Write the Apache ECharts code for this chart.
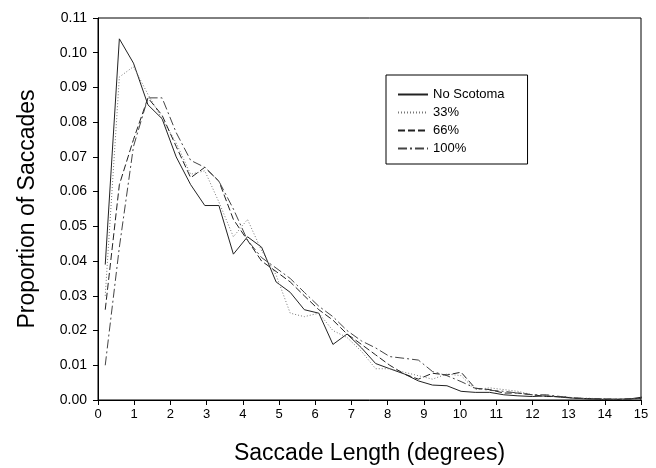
<!DOCTYPE html>
<html>
<head>
<meta charset="utf-8">
<script src="https://cdn.jsdelivr.net/npm/echarts@6/dist/echarts.min.js"></script>
<style>html,body{margin:0;padding:0;background:#fff;}#c{width:656px;height:468px;}</style>
</head>
<body>
<div id="c"></div>
<script>
var xValues = [0.20, 0.59, 0.98, 1.38, 1.77, 2.16, 2.56, 2.95, 3.34, 3.74, 4.13, 4.52, 4.92, 5.31, 5.70, 6.10, 6.49, 6.88, 7.28, 7.67, 8.06, 8.46, 8.85, 9.24, 9.64, 10.03, 10.42, 10.82, 11.21, 11.60, 12.00, 12.39, 12.78, 13.18, 13.57, 13.96, 14.36, 14.75, 15.14];
var noScotoma = [0.039, 0.104, 0.097, 0.085, 0.081, 0.070, 0.062, 0.056, 0.056, 0.042, 0.047, 0.044, 0.034, 0.031, 0.026, 0.025, 0.016, 0.019, 0.015, 0.0105, 0.009, 0.0075, 0.0055, 0.0043, 0.0041, 0.0025, 0.0022, 0.0022, 0.0015, 0.0012, 0.0010, 0.0012, 0.0008, 0.0005, 0.0003, 0.0002, 0.0002, 0.0004, 0.0010];
var s33 = [0.030, 0.093, 0.096, 0.088, 0.081, 0.074, 0.065, 0.066, 0.057, 0.047, 0.052, 0.043, 0.036, 0.025, 0.024, 0.025, 0.020, 0.018, 0.014, 0.009, 0.009, 0.008, 0.007, 0.006, 0.0075, 0.007, 0.003, 0.0035, 0.003, 0.0025, 0.0015, 0.001, 0.001, 0.0005, 0.0005, 0.0003, 0.0002, 0.0003, 0.0006];
var s66 = [0.026, 0.062, 0.075, 0.087, 0.082, 0.073, 0.064, 0.067, 0.063, 0.052, 0.046, 0.040, 0.037, 0.034, 0.030, 0.026, 0.023, 0.019, 0.016, 0.013, 0.010, 0.0075, 0.006, 0.0077, 0.0072, 0.008, 0.0034, 0.003, 0.002, 0.002, 0.0015, 0.001, 0.001, 0.0005, 0.0004, 0.0003, 0.0002, 0.0003, 0.0006];
var s100 = [0.010, 0.044, 0.073, 0.087, 0.087, 0.077, 0.069, 0.067, 0.063, 0.055, 0.046, 0.041, 0.038, 0.035, 0.031, 0.027, 0.024, 0.020, 0.017, 0.015, 0.0125, 0.012, 0.0115, 0.0082, 0.007, 0.0053, 0.0034, 0.0028, 0.0025, 0.002, 0.0015, 0.0015, 0.001, 0.0006, 0.0004, 0.0003, 0.0002, 0.0003, 0.0006];
var seriesNames = ['No Scotoma', '33%', '66%', '100%'];

function pairs(ys) { return xValues.map(function (x, i) { return [x, ys[i]]; }); }

var styles = [
  { color: '#222', width: 1, type: 'solid' },
  { color: '#777', width: 1, type: [1, 2] },
  { color: '#222', width: 1, type: [7, 3] },
  { color: '#444', width: 1, type: [9, 3, 2, 3] }
];
var allData = [noScotoma, s33, s66, s100];
var FONT = 'Liberation Sans, Arial, sans-serif';

var chart = echarts.init(document.getElementById('c'));
chart.setOption({
  animation: false,
  textStyle: { fontFamily: FONT },
  grid: { left: 98, right: 15, top: 18, bottom: 68, outerBoundsMode: 'none', show: true, borderColor: '#000', borderWidth: 1 },
  legend: {
    orient: 'vertical', left: 386, top: 75,
    data: seriesNames,
    itemWidth: 30, itemHeight: 12, itemGap: 5,
    padding: [13, 23, 9, 11],
    borderColor: '#000', borderWidth: 1,
    itemStyle: { opacity: 0 },
    textStyle: { fontSize: 13, color: '#000', fontFamily: FONT }
  },
  xAxis: {
    type: 'value', min: 0, max: 15, interval: 1,
    name: 'Saccade Length (degrees)', nameLocation: 'middle', nameGap: 42,
    nameTextStyle: { fontSize: 23, color: '#000', fontFamily: FONT },
    axisLine: { lineStyle: { color: '#000', width: 1 } },
    axisTick: { show: true, length: 5, lineStyle: { color: '#000' } },
    axisLabel: { fontSize: 13, color: '#000', margin: 8 },
    splitLine: { show: false }
  },
  yAxis: {
    type: 'value', min: 0, max: 0.11, interval: 0.01,
    name: 'Proportion of Saccades', nameLocation: 'middle', nameGap: 59,
    nameTextStyle: { fontSize: 23, color: '#000', fontFamily: FONT },
    axisLine: { show: true, lineStyle: { color: '#000', width: 1 } },
    axisTick: { show: true, length: 5, lineStyle: { color: '#000' } },
    axisLabel: { fontSize: 14, color: '#000', margin: 11, formatter: function (v) { return v.toFixed(2); } },
    splitLine: { show: false }
  },
  series: seriesNames.map(function (n, i) {
    return {
      name: n, type: 'line', data: pairs(allData[i]), symbol: 'none', clip: true,
      lineStyle: { color: styles[i].color, width: styles[i].width, type: styles[i].type },
      itemStyle: { color: styles[i].color }
    };
  })
});
</script>
</body>
</html>
